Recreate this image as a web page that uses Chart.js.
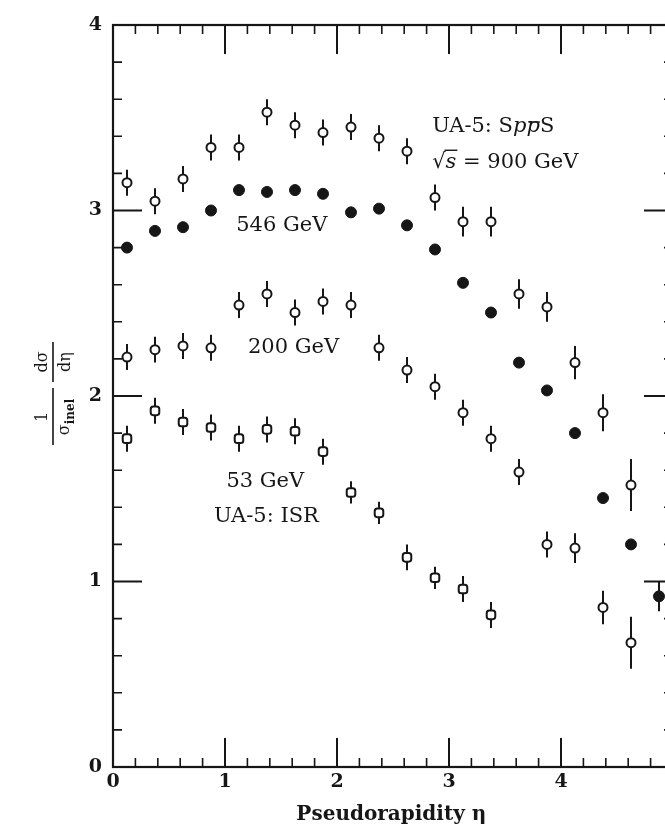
<!DOCTYPE html>
<html>
<head>
<meta charset="utf-8">
<script src="https://cdn.jsdelivr.net/npm/chart.js@4.4.1/dist/chart.umd.min.js"></script>
<style>
  html, body { margin: 0; padding: 0; background: #fff; overflow: hidden; width: 665px; height: 832px; }
  canvas { display: block; }
</style>
</head>
<body>
<canvas id="c" width="700" height="832"></canvas>
<script>
// Pseudorapidity bin centres
const eta = [0.125, 0.375, 0.625, 0.875, 1.125, 1.375, 1.625, 1.875, 2.125, 2.375,
             2.625, 2.875, 3.125, 3.375, 3.625, 3.875, 4.125, 4.375, 4.625, 4.875];

// (1/sigma_inel) dsigma/deta per energy, with symmetric errors
const val900 = [3.15, 3.05, 3.17, 3.34, 3.34, 3.53, 3.46, 3.42, 3.45, 3.39,
                3.32, 3.07, 2.94, 2.94, 2.55, 2.48, 2.18, 1.91, 1.52];
const err900 = [0.07, 0.07, 0.07, 0.07, 0.07, 0.07, 0.07, 0.07, 0.07, 0.07,
                0.07, 0.07, 0.08, 0.08, 0.08, 0.08, 0.09, 0.10, 0.14];

const val546 = [2.80, 2.89, 2.91, 3.00, 3.11, 3.10, 3.11, 3.09, 2.99, 3.01,
                2.92, 2.79, 2.61, 2.45, 2.18, 2.03, 1.80, 1.45, 1.20, 0.92];
const err546 = [0, 0, 0, 0, 0, 0, 0, 0, 0, 0,
                0, 0, 0, 0, 0, 0, 0, 0, 0, 0.08];

const val200 = [2.21, 2.25, 2.27, 2.26, 2.49, 2.55, 2.45, 2.51, 2.49, 2.26,
                2.14, 2.05, 1.91, 1.77, 1.59, 1.20, 1.18, 0.86, 0.67];
const err200 = [0.07, 0.07, 0.07, 0.07, 0.07, 0.07, 0.07, 0.07, 0.07, 0.07,
                0.07, 0.07, 0.07, 0.07, 0.07, 0.07, 0.08, 0.09, 0.14];

const val53 = [1.77, 1.92, 1.86, 1.83, 1.77, 1.82, 1.81, 1.70, 1.48, 1.37,
               1.13, 1.02, 0.96, 0.82];
const err53 = [0.07, 0.07, 0.07, 0.07, 0.07, 0.07, 0.07, 0.07, 0.06, 0.06,
               0.07, 0.06, 0.07, 0.07];

// Axis ranges and labelled ticks
const xRange = [0, 5];
const yRange = [0, 4];
const xMajor = [0, 1, 2, 3, 4, 5];
const yMajor = [0, 1, 2, 3, 4];

const INK = '#161616';
const SERIF = '"DejaVu Serif", "Liberation Serif", serif';

function pts(vals, errs) {
  return vals.map((v, i) => ({ x: eta[i], y: v, e: errs[i] }));
}

const openStyle = {
  showLine: false, pointStyle: 'circle', pointRadius: 4.5,
  pointBackgroundColor: '#fff', pointBorderColor: INK, pointBorderWidth: 2
};

const datasets = [
  Object.assign({ label: '900 GeV', data: pts(val900, err900) }, openStyle),
  { label: '546 GeV', data: pts(val546, err546), showLine: false, pointStyle: 'circle',
    pointRadius: 5.5, pointBackgroundColor: INK, pointBorderColor: INK, pointBorderWidth: 1 },
  Object.assign({ label: '200 GeV', data: pts(val200, err200) }, openStyle),
  Object.assign({ label: '53 GeV', data: pts(val53, err53) }, openStyle,
    { pointStyle: 'rectRounded', pointRadius: 5 })
];

// Frame, inward ticks and vertical error bars
const framePlugin = {
  id: 'frame',
  beforeDatasetsDraw(chart) {
    const { ctx, chartArea: a, scales: { x, y } } = chart;
    ctx.save();
    ctx.strokeStyle = INK;
    ctx.lineCap = 'butt';

    // error bars
    ctx.lineWidth = 2;
    chart.data.datasets.forEach(ds => {
      ds.data.forEach(p => {
        if (!p.e) return;
        const px = x.getPixelForValue(p.x);
        ctx.beginPath();
        ctx.moveTo(px, y.getPixelForValue(p.y - p.e));
        ctx.lineTo(px, y.getPixelForValue(p.y + p.e));
        ctx.stroke();
      });
    });

    // ticks every 0.2, long ones at integers
    for (let k = 0; k <= 25; k++) {
      const v = k / 5;
      const major = k % 5 === 0;
      ctx.lineWidth = major ? 2 : 1.6;
      if (v <= xRange[1]) {
        const px = x.getPixelForValue(v);
        const len = major ? 29 : 9;
        ctx.beginPath();
        ctx.moveTo(px, a.bottom); ctx.lineTo(px, a.bottom - len);
        ctx.moveTo(px, a.top); ctx.lineTo(px, a.top + len);
        ctx.stroke();
      }
      if (v <= yRange[1]) {
        const py = y.getPixelForValue(v);
        const len = major ? 29 : 9;
        ctx.beginPath();
        ctx.moveTo(a.left, py); ctx.lineTo(a.left + len, py);
        ctx.moveTo(a.right, py); ctx.lineTo(a.right - len, py);
        ctx.stroke();
      }
    }

    // box
    ctx.lineWidth = 2.2;
    ctx.strokeRect(a.left, a.top, a.right - a.left, a.bottom - a.top);
    ctx.restore();
  },

  afterDatasetsDraw(chart) {
    const { ctx, scales: { x, y } } = chart;
    ctx.save();
    ctx.fillStyle = INK;
    ctx.strokeStyle = INK;
    ctx.textBaseline = 'middle';
    const F = '21px ' + SERIF;
    const FI = 'italic 21px ' + SERIF;

    // UA-5: SppbarS
    let px = x.getPixelForValue(2.85), py = y.getPixelForValue(3.45);
    ctx.textAlign = 'left';
    const parts = [['UA-5: S', F], ['p', FI], ['p', FI, true], ['S', F]];
    parts.forEach(([t, f, bar]) => {
      ctx.font = f;
      ctx.fillText(t, px, py);
      const w = ctx.measureText(t).width;
      if (bar) {
        ctx.lineWidth = 1.4;
        ctx.beginPath();
        ctx.moveTo(px + 2, py - 5); ctx.lineTo(px + w, py - 5);
        ctx.stroke();
      }
      px += w;
    });

    // sqrt(s) = 900 GeV
    px = x.getPixelForValue(2.85); py = y.getPixelForValue(3.26);
    ctx.font = F;
    ctx.fillText('\u221A', px, py);
    let w = ctx.measureText('\u221A').width;
    px += w;
    ctx.font = FI;
    ctx.fillText('s', px, py);
    w = ctx.measureText('s').width;
    ctx.lineWidth = 1.4;
    ctx.beginPath();
    ctx.moveTo(px - 1, py - 12); ctx.lineTo(px + w + 1, py - 12);
    ctx.stroke();
    px += w;
    ctx.font = F;
    ctx.fillText(' = 900 GeV', px, py);

    ctx.fillText('546 GeV', x.getPixelForValue(1.10), y.getPixelForValue(2.92));
    ctx.fillText('200 GeV', x.getPixelForValue(1.205), y.getPixelForValue(2.26));
    ctx.textAlign = 'center';
    ctx.fillText('53 GeV', x.getPixelForValue(1.36), y.getPixelForValue(1.54));
    ctx.fillText('UA-5: ISR', x.getPixelForValue(1.37), y.getPixelForValue(1.35));

    // x-axis title
    ctx.font = 'bold 20px ' + SERIF;
    ctx.fillText('Pseudorapidity \u03B7', x.getPixelForValue(2.485), 815);

    // y-axis title: (1/sigma_inel) dsigma/deta, rotated
    ctx.translate(53, 395);
    ctx.rotate(-Math.PI / 2);
    ctx.lineWidth = 1.6;
    ctx.beginPath();
    ctx.moveTo(-50, 0); ctx.lineTo(7, 0);
    ctx.moveTo(13, 0); ctx.lineTo(53, 0);
    ctx.stroke();
    ctx.textAlign = 'center';
    ctx.font = '16px ' + SERIF;
    ctx.textBaseline = 'alphabetic';
    ctx.fillText('1', -22, -6);
    ctx.fillText('d\u03C3', 33, -6);
    ctx.textBaseline = 'top';
    ctx.fillText('d\u03B7', 33, 5);
    // sigma with subscript "inel"
    ctx.font = '16px ' + SERIF;
    const sw = ctx.measureText('\u03C3').width;
    ctx.font = 'bold 12px ' + SERIF;
    const iw = ctx.measureText('inel').width;
    const sx = -22 - (sw + iw) / 2;
    ctx.textAlign = 'left';
    ctx.font = '16px ' + SERIF;
    ctx.fillText('\u03C3', sx, 4);
    ctx.font = 'bold 12px ' + SERIF;
    ctx.fillText('inel', sx + sw, 12);
    ctx.restore();
  }
};

new Chart(document.getElementById('c'), {
  type: 'scatter',
  data: { datasets },
  plugins: [framePlugin],
  options: {
    responsive: false,
    animation: false,
    devicePixelRatio: 1,
    layout: { padding: { top: 25, right: 27, left: 0, bottom: 0 } },
    plugins: { legend: { display: false }, tooltip: { enabled: false } },
    scales: {
      x: {
        type: 'linear', min: xRange[0], max: xRange[1],
        afterFit: s => { s.height = 65; },
        afterBuildTicks: s => { s.ticks = xMajor.map(v => ({ value: v })); },
        grid: { display: false, drawTicks: false },
        border: { display: false },
        ticks: { color: INK, padding: 4, maxRotation: 0,
                 font: { family: SERIF, size: 19, weight: 'bold' } }
      },
      y: {
        type: 'linear', min: yRange[0], max: yRange[1],
        afterFit: s => { s.width = 113; },
        afterBuildTicks: s => { s.ticks = yMajor.map(v => ({ value: v })); },
        grid: { display: false, drawTicks: false },
        border: { display: false },
        ticks: { color: INK, padding: 11,
                 font: { family: SERIF, size: 19, weight: 'bold' } }
      }
    }
  }
});
</script>
</body>
</html>
